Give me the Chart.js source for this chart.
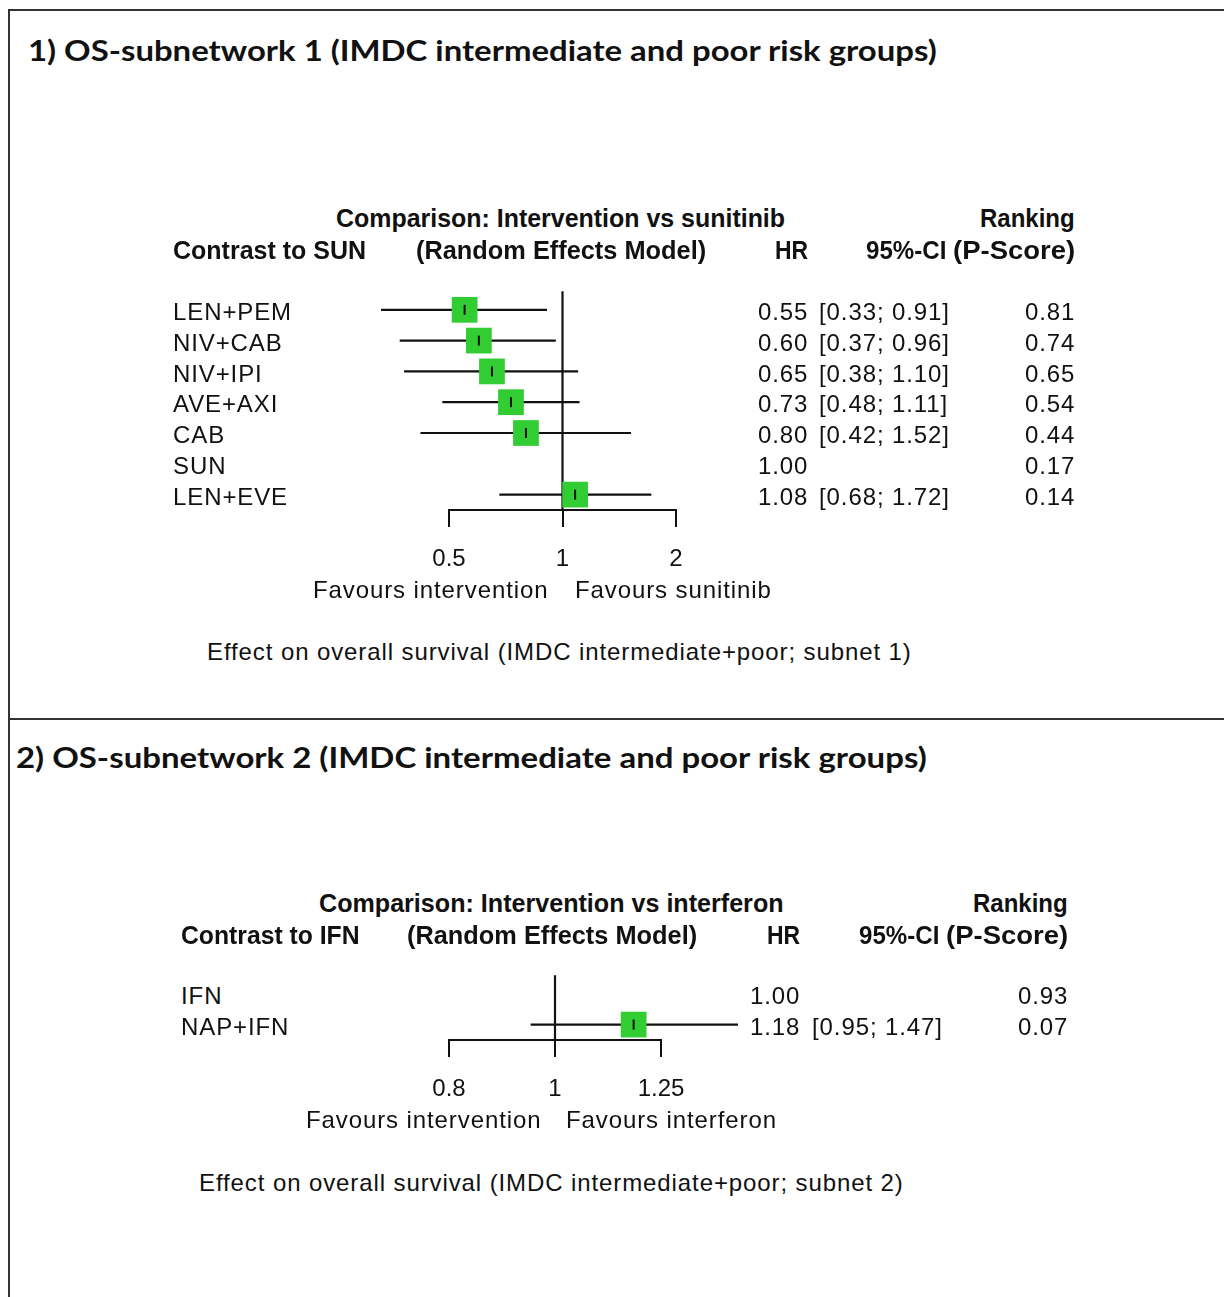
<!DOCTYPE html>
<html>
<head>
<meta charset="utf-8">
<script src="https://cdn.jsdelivr.net/npm/chart.js@4/dist/chart.umd.min.js"></script>
<style>
  body { margin: 0; background: #fff; }
  #page { position: relative; width: 1224px; height: 1297px; overflow: hidden;
          font-family: "Liberation Sans", Arial, sans-serif; color: #111; background: #fff; }
  .t { position: absolute; white-space: nowrap; line-height: 1; }
  .rule { position: absolute; background: #333; }
  canvas { position: absolute; }
</style>
</head>
<body>
<div id="page">
  <div class="rule" style="left:8px;top:9px;width:1216px;height:2px"></div>
  <div class="rule" style="left:8px;top:9px;width:2px;height:1288px"></div>
  <div class="rule" style="left:8px;top:718px;width:1216px;height:2px"></div>
  <canvas id="forest1"></canvas>
  <canvas id="forest2"></canvas>
</div>
<script>
"use strict";

// subnetwork 1: contrast to sunitinib
const treat1 = ["LEN+PEM", "NIV+CAB", "NIV+IPI", "AVE+AXI", "CAB", "SUN", "LEN+EVE"];
const hr1 = [0.55, 0.60, 0.65, 0.73, 0.80, 1.00, 1.08];
const lower1 = [0.33, 0.37, 0.38, 0.48, 0.42, null, 0.68];
const upper1 = [0.91, 0.96, 1.10, 1.11, 1.52, null, 1.72];
const pscore1 = [0.81, 0.74, 0.65, 0.54, 0.44, 0.17, 0.14];
const ticks1 = [0.5, 1, 2];
const tickLabels1 = ["0.5", "1", "2"];

// subnetwork 2: contrast to interferon
const treat2 = ["IFN", "NAP+IFN"];
const hr2 = [1.00, 1.18];
const lower2 = [null, 0.95];
const upper2 = [null, 1.47];
const pscore2 = [0.93, 0.07];
const ticks2 = [0.8, 1, 1.25];
const tickLabels2 = ["0.8", "1", "1.25"];

const page = document.getElementById("page");
const ink = "#111";
const green = "#32cd32";
const rowGap = 30.8;

// put a text at x (left/right/center) with its middle at y; w squeezes it to a width
const put = (str, x, y, opt = {}) => {
  const el = document.createElement("div");
  el.className = "t";
  el.textContent = str;
  const size = opt.size || 24;
  el.style.fontSize = size + "px";
  if (opt.bold) el.style.fontWeight = "bold";
  if (opt.family) el.style.fontFamily = opt.family;
  el.style.letterSpacing = (opt.ls !== undefined ? opt.ls : 0.9) + "px";
  page.appendChild(el);
  const w = el.offsetWidth;
  let s = 1;
  if (opt.w) {
    s = opt.w / w;
    el.style.transform = `scaleX(${s})`;
    el.style.transformOrigin = "left center";
  }
  const fw = w * s;
  const align = opt.align || "left";
  el.style.left = (align === "left" ? x : align === "right" ? x - fw : x - fw / 2) + "px";
  el.style.top = (y - size * 0.49) + "px";
};

const drawForest = (id, o) => {
  const canvas = document.getElementById(id);
  const W = 700;
  const padL = 200;
  canvas.width = W;
  canvas.height = o.height;

  const est = [];
  const ciSets = [];
  for (let i = 0; i < o.treat.length; i++) {
    if (o.lower[i] === null) continue;
    est.push({ x: o.hr[i], y: i });
    ciSets.push({
      type: "line",
      data: [{ x: o.lower[i], y: i }, { x: o.upper[i], y: i }],
      borderColor: ink, borderWidth: 2.2, pointRadius: 0, clip: false, order: 3,
    });
  }
  const yMax = o.treat.length - 0.5;

  const chart = new Chart(canvas, {
    type: "scatter",
    data: {
      datasets: [
        { data: est, pointStyle: "line", rotation: 90, radius: 5,
          borderColor: ink, borderWidth: 2, clip: false, order: 0 },
        { data: est, pointStyle: "rect", radius: 18.2, backgroundColor: green,
          borderWidth: 0, clip: false, order: 1 },
        { type: "line", data: [{ x: 1, y: -0.6 }, { x: 1, y: yMax }],
          borderColor: ink, borderWidth: 2.2, pointRadius: 0, clip: false, order: 2 },
        ...ciSets,
      ],
    },
    options: {
      responsive: false,
      animation: false,
      devicePixelRatio: 1,
      events: [],
      layout: { padding: { left: padL, right: W - padL - (o.x1 - o.x0), top: 4, bottom: 0 } },
      plugins: { legend: { display: false }, tooltip: { enabled: false } },
      scales: {
        x: {
          type: "logarithmic",
          min: o.ticks[0],
          max: o.ticks[o.ticks.length - 1],
          afterBuildTicks: (ax) => { ax.ticks = o.ticks.map((v) => ({ value: v })); },
          grid: { drawOnChartArea: false, tickLength: 17, color: ink, lineWidth: 2 },
          border: { color: ink, width: 2 },
          ticks: {
            callback: (v, i) => o.tickLabels[i],
            color: ink,
            font: { family: "Liberation Sans", size: 24, lineHeight: "28px" },
            padding: 18, maxRotation: 0, autoSkip: false,
          },
        },
        y: { type: "linear", reverse: true, min: -0.6, max: yMax, display: false },
      },
    },
  });

  // keep the row spacing of the original
  const a = chart.chartArea;
  chart.options.scales.y.min = yMax - (a.bottom - a.top) / o.rowGap;
  chart.update();

  const top = o.axisY - chart.chartArea.bottom;
  canvas.style.left = (o.x0 - padL) + "px";
  canvas.style.top = top + "px";

  // row texts
  for (let i = 0; i < o.treat.length; i++) {
    const y = top + chart.scales.y.getPixelForValue(i) + 2;
    put(o.treat[i], o.colLabel, y);
    put(o.hr[i].toFixed(2), o.colHR, y, { align: "right" });
    if (o.lower[i] !== null) {
      put(`[${o.lower[i].toFixed(2)}; ${o.upper[i].toFixed(2)}]`, o.colCI, y);
    }
    put(o.pscore[i].toFixed(2), o.colPS, y, { align: "right" });
  }
  return chart;
};

// ---- panel 1
put("1) OS-subnetwork 1 (IMDC intermediate and poor risk groups)", 28, 50,
  { family: "Lato", bold: true, size: 28, ls: 0, w: 909 });
put("Comparison: Intervention vs sunitinib", 336, 218, { bold: true, size: 25, ls: 0, w: 449 });
put("Ranking", 1075, 218, { bold: true, size: 25, ls: 0, w: 95, align: "right" });
put("Contrast to SUN", 173, 250, { bold: true, size: 25, ls: 0, w: 193 });
put("(Random Effects Model)", 416, 250, { bold: true, size: 25, ls: 0, w: 290 });
put("HR", 808, 250, { bold: true, size: 25, ls: 0, w: 33, align: "right" });
put("95%-CI", 946, 250, { bold: true, size: 25, ls: 0, w: 80, align: "right" });
put("(P-Score)", 1075, 250, { bold: true, size: 25, ls: 0, w: 122, align: "right" });

drawForest("forest1", {
  treat: treat1, hr: hr1, lower: lower1, upper: upper1, pscore: pscore1,
  ticks: ticks1, tickLabels: tickLabels1,
  x0: 449, x1: 676, axisY: 510, height: 330, rowGap,
  colLabel: 173, colHR: 808, colCI: 819, colPS: 1075,
});

put("Favours intervention", 548, 590, { align: "right" });
put("Favours sunitinib", 575, 590);
put("Effect on overall survival (IMDC intermediate+poor; subnet 1)", 207, 652);

// ---- panel 2
put("2) OS-subnetwork 2 (IMDC intermediate and poor risk groups)", 16, 757,
  { family: "Lato", bold: true, size: 28, ls: 0, w: 911 });
put("Comparison: Intervention vs interferon", 319, 903, { bold: true, size: 25, ls: 0, w: 465 });
put("Ranking", 1068, 903, { bold: true, size: 25, ls: 0, w: 95, align: "right" });
put("Contrast to IFN", 181, 935, { bold: true, size: 25, ls: 0, w: 179 });
put("(Random Effects Model)", 407, 935, { bold: true, size: 25, ls: 0, w: 290 });
put("HR", 800, 935, { bold: true, size: 25, ls: 0, w: 33, align: "right" });
put("95%-CI", 939, 935, { bold: true, size: 25, ls: 0, w: 80, align: "right" });
put("(P-Score)", 1068, 935, { bold: true, size: 25, ls: 0, w: 122, align: "right" });

drawForest("forest2", {
  treat: treat2, hr: hr2, lower: lower2, upper: upper2, pscore: pscore2,
  ticks: ticks2, tickLabels: tickLabels2,
  x0: 449, x1: 661, axisY: 1040, height: 180, rowGap,
  colLabel: 181, colHR: 800, colCI: 812, colPS: 1068,
});

put("Favours intervention", 541, 1120, { align: "right" });
put("Favours interferon", 566, 1120);
put("Effect on overall survival (IMDC intermediate+poor; subnet 2)", 199, 1183);
</script>
</body>
</html>
